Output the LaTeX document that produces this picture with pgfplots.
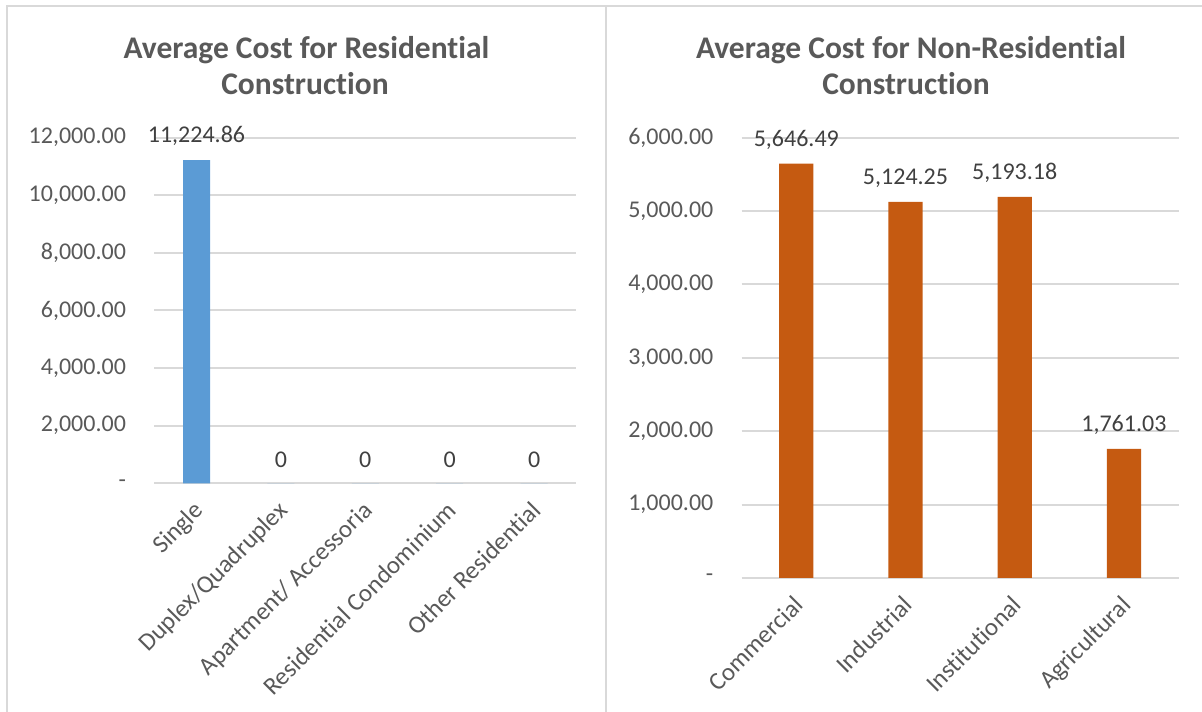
\documentclass[border=0pt]{standalone}
\usepackage{fontspec}
\setmainfont{Carlito}[Ligatures=NoCommon]
\usepackage{pgfplots}
\pgfplotsset{compat=1.18}
\definecolor{txt}{HTML}{595959}
\definecolor{lbl}{HTML}{404040}
\definecolor{gridc}{HTML}{D9D9D9}
\definecolor{barblue}{HTML}{5B9BD5}
\definecolor{barorange}{HTML}{C55A11}
\pgfplotsset{
  excelbar/.style={
    scale only axis,
    ybar,
    clip=false,
    scaled y ticks=false,
    axis line style={draw=none},
    major tick length=0pt,
    ymajorgrids,
    grid style={gridc, line width=1pt},
    xtick=data,
    ticklabel style={font=\fontsize{12}{14}\selectfont, text=txt},
    yticklabel style={inner sep=0pt, anchor=east, xshift=-14pt},
    xticklabel style={font=\fontsize{12.5}{14}\selectfont, xshift=-2pt, yshift=-8pt, rotate=45, anchor=north east, inner sep=0pt},
    nodes near coords,
    point meta=explicit symbolic,
    every node near coord/.append style={anchor=center, yshift=12pt, font=\fontsize{12}{14}\selectfont, text=lbl, inner sep=0pt},
  }
}
\begin{document}
\begin{tikzpicture}
\useasboundingbox (0,0) rectangle (601pt,355.5pt);
% panel borders
\draw[gridc, line width=1pt] (3.5pt,-5pt) -- (3.5pt,352.5pt) -- (610pt,352.5pt);
\draw[gridc, line width=1pt] (303pt,-5pt) -- (303pt,352.5pt);
% titles
\node[anchor=base, font=\bfseries\fontsize{15.75}{18}\selectfont, text=txt] at (153.25pt,326.35pt) {Average Cost for Residential};
\node[anchor=base, font=\bfseries\fontsize{15.75}{18}\selectfont, text=txt] at (152.5pt,308pt) {Construction};
\node[anchor=base, font=\bfseries\fontsize{15.75}{18}\selectfont, text=txt] at (455.5pt,326.35pt) {Average Cost for Non-Residential};
\node[anchor=base, font=\bfseries\fontsize{15.75}{18}\selectfont, text=txt] at (453pt,308pt) {Construction};

\begin{axis}[excelbar,
  at={(77.15pt,113.85pt)}, anchor=south west,
  width=211pt, height=172.8pt,
  xmin=-0.5, xmax=4.5, ymin=0, ymax=12000,
  bar width=13.5pt,
  ytick={0,2000,4000,6000,8000,10000,12000},
  yticklabels={{-\hspace{5.5pt}},{2,000.00},{4,000.00},{6,000.00},{8,000.00},{10,000.00},{12,000.00}},
  xticklabels={Single,Duplex/Quadruplex,Apartment/ Accessoria,Residential Condominium,Other Residential},
]
\addplot[fill=barblue, draw=none] coordinates {
  (0,11224.86) [11,224.86]
  (1,0) [0]
  (2,0) [0]
  (3,0) [0]
  (4,0) [0]
};
\end{axis}

\begin{axis}[excelbar,
  at={(370.85pt,66.5pt)}, anchor=south west,
  width=218.4pt, height=220.15pt,
  xmin=-0.5, xmax=3.5, ymin=0, ymax=6000,
  bar width=17.15pt,
  ytick={0,1000,2000,3000,4000,5000,6000},
  yticklabels={{-\hspace{5.5pt}},{1,000.00},{2,000.00},{3,000.00},{4,000.00},{5,000.00},{6,000.00}},
  xticklabels={Commercial,Industrial,Institutional,Agricultural},
]
\addplot[fill=barorange, draw=none] coordinates {
  (0,5646.49) [5,646.49]
  (1,5124.25) [5,124.25]
  (2,5193.18) [5,193.18]
  (3,1761.03) [1,761.03]
};
\end{axis}
\end{tikzpicture}
\end{document}
